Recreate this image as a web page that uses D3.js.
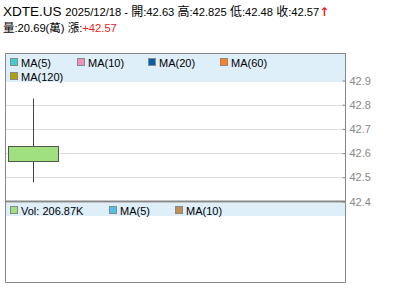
<!DOCTYPE html>
<html>
<head>
<meta charset="utf-8">
<script src="https://cdn.jsdelivr.net/npm/d3@7"></script>
<style>
  body { margin: 0; background: #fff; }
  svg { display: block; }
  text { font-family: "Liberation Sans", Arial, "Noto Sans CJK TC", sans-serif; }
  .cjk { font-family: "Noto Sans CJK TC", sans-serif; font-size: 12px; }
  .line2 .cjk { font-size: 11.5px; }
</style>
</head>
<body>
<div id="chart"></div>
<script>
// Data for the chart
const symbol = 'XDTE.US';
const dates = ['2025/12/18'];
const opens = [42.63];
const highs = [42.825];
const lows = [42.48];
const closes = [42.57];
const volumes = [206.87]; // K
const volumeWan = '20.69';
const change = '+42.57';
const priceTicks = [42.4, 42.5, 42.6, 42.7, 42.8, 42.9];
const maLabels = ['MA(5)', 'MA(10)', 'MA(20)', 'MA(60)', 'MA(120)'];
const maColors = ['#40d0d0', '#f090c0', '#0060b0', '#ff8020', '#b0a000'];
const volLabels = ['Vol: 206.87K', 'MA(5)', 'MA(10)'];
const volColors = ['#a0e080', '#50c0f0', '#c09050'];
const slots = 6;

document.addEventListener('DOMContentLoaded', function() {
    draw();
});

// append a run of text, CJK characters get their own tspan
function addRun(t, str, fill) {
    const parts = str.match(/[\u3400-\u9fff]+|[^\u3400-\u9fff]+/g);
    parts.forEach(p => {
        const s = t.append('tspan').text(p);
        if (/[\u3400-\u9fff]/.test(p)) s.attr('class', 'cjk');
        if (fill) s.attr('fill', fill);
    });
}

function draw() {
    const width = 400, height = 301;
    const left = 5, right = 345;
    const top = 53, split = 201.5, bottom = 282;

    const svg = d3.select('#chart')
        .append('svg')
        .attr('width', width)
        .attr('height', height);

    // Header text
    const h1 = svg.append('text').attr('x', 3).attr('y', 15.5).attr('font-size', 11.2).attr('fill', '#000');
    h1.append('tspan').attr('font-size', 13.5).text(symbol + ' ');
    addRun(h1, dates[0] + ' - 開:' + opens[0] + ' 高:' + highs[0] + ' 低:' + lows[0] + ' 收:' + closes[0]);
    h1.append('tspan')
        .attr('fill', '#ee2222')
        .attr('font-weight', 'bold')
        .attr('font-size', 12)
        .attr('font-family', '"DejaVu Sans", sans-serif')
        .text('↑');

    const h2 = svg.append('text').attr('class', 'line2')
        .attr('x', 3).attr('y', 31.5).attr('font-size', 11.2).attr('fill', '#000');
    addRun(h2, '量:' + volumeWan + '(萬) 漲:');
    h2.append('tspan').attr('fill', '#ee2222').text(change);

    // Scales
    const y = d3.scaleLinear()
        .domain([42.4, 42.9])
        .range([split, 80.5]);

    const x = d3.scaleBand()
        .domain(d3.range(slots))
        .range([left, right])
        .paddingInner(0.12)
        .paddingOuter(0.06);

    // Gridlines
    svg.append('g')
        .selectAll('line')
        .data(priceTicks.filter(t => t > 42.4 && t < 42.9))
        .enter()
        .append('line')
        .attr('x1', left)
        .attr('x2', right)
        .attr('y1', d => Math.round(y(d)) + 0.5)
        .attr('y2', d => Math.round(y(d)) + 0.5)
        .attr('stroke', '#dddddd');

    // Legend band (main)
    svg.append('rect')
        .attr('x', left).attr('y', top)
        .attr('width', right - left).attr('height', 82 - top)
        .attr('fill', '#dfeffa');

    const maX = [10, 77, 148, 220, 10];
    const maY = [58, 58, 58, 58, 72];
    const lg = svg.append('g');
    maLabels.forEach((m, i) => {
        lg.append('rect')
            .attr('x', maX[i] + 0.5).attr('y', maY[i] + 0.5)
            .attr('width', 7).attr('height', 7)
            .attr('fill', maColors[i])
            .attr('stroke', '#888');
        lg.append('text')
            .attr('x', maX[i] + 11).attr('y', maY[i] + 8.5)
            .attr('font-size', 11).attr('fill', '#000')
            .text(m);
    });

    // Candles
    const candles = dates.map((d, i) => ({ i, o: opens[i], h: highs[i], l: lows[i], c: closes[i] }));
    const cg = svg.append('g');
    cg.selectAll('.wick')
        .data(candles)
        .enter()
        .append('line')
        .attr('x1', d => Math.round(x(d.i) + x.bandwidth() / 2) + 0.5)
        .attr('x2', d => Math.round(x(d.i) + x.bandwidth() / 2) + 0.5)
        .attr('y1', d => y(d.h))
        .attr('y2', d => y(d.l))
        .attr('stroke', '#444');
    cg.selectAll('.body')
        .data(candles)
        .enter()
        .append('rect')
        .attr('x', d => Math.round(x(d.i)) + 0.5)
        .attr('y', d => Math.round(y(Math.max(d.o, d.c))) + 0.5)
        .attr('width', Math.round(x.bandwidth()))
        .attr('height', d => Math.round(y(Math.min(d.o, d.c)) - y(Math.max(d.o, d.c))))
        .attr('fill', d => d.c < d.o ? '#a0e080' : '#ff8080')
        .attr('stroke', '#555');

    // Volume legend band
    svg.append('rect')
        .attr('x', left).attr('y', split + 1.5)
        .attr('width', right - left).attr('height', 216 - split - 1.5)
        .attr('fill', '#dfeffa');

    const vX = [10, 109, 175];
    const vg = svg.append('g');
    volLabels.forEach((m, i) => {
        vg.append('rect')
            .attr('x', vX[i] + 0.5).attr('y', 206.5)
            .attr('width', 7).attr('height', 7)
            .attr('fill', volColors[i])
            .attr('stroke', '#888');
        vg.append('text')
            .attr('x', vX[i] + 11).attr('y', 214.5)
            .attr('font-size', 11).attr('fill', '#000')
            .text(m);
    });

    // Panel borders
    const frame = svg.append('g').attr('stroke', '#888').attr('fill', 'none');
    frame.append('path')
        .attr('d', `M${right + 0.5},${top + 0.5}H${left + 0.5}V${bottom + 0.5}H${right + 0.5}`);
    frame.append('line')
        .attr('x1', left).attr('x2', right)
        .attr('y1', split).attr('y2', split)
        .attr('stroke-width', 2);

    // Price axis
    const axis = svg.append('g')
        .attr('transform', `translate(${right + 0.5},0)`)
        .call(d3.axisRight(y)
            .tickValues(priceTicks)
            .tickFormat(d3.format('.1f'))
            .tickSizeInner(-3)
            .tickSizeOuter(0)
            .tickPadding(4));
    axis.select('.domain').attr('stroke', '#888')
        .attr('d', `M0,${top}V${bottom + 1}`);
    axis.selectAll('.tick line').attr('stroke', '#888');
    axis.selectAll('.tick text')
        .attr('fill', '#888')
        .attr('font-size', 11)
        .attr('font-family', '"Liberation Sans", Arial, sans-serif');
}
</script>
</body>
</html>
